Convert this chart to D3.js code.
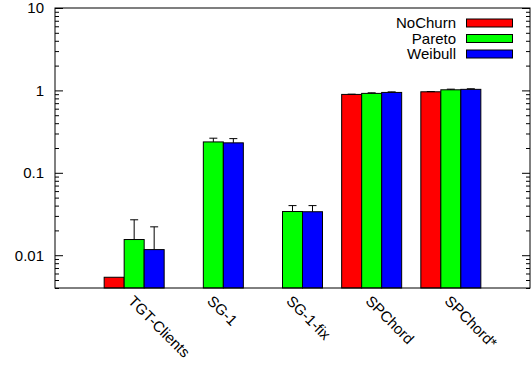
<!DOCTYPE html>
<html>
<head>
<meta charset="utf-8">
<script src="https://cdn.jsdelivr.net/npm/d3@7"></script>
<style>
  body { margin: 0; background: #fff; }
  svg { display: block; font-family: "Liberation Sans", Arial, sans-serif; }
</style>
</head>
<body>
<div id="graph_draw"></div>
<script>
// data
var categories = ["TGT-Clients", "SG-1", "SG-1-fix", "SPChord", "SPChord*"];
var seriesNames = ["NoChurn", "Pareto", "Weibull"];
var seriesColors = ["#ff0000", "#00ff00", "#0000ff"];
var noChurn = [0.0054, null, null, 0.894, 0.962];
var pareto = [0.0155, 0.237, 0.0339, 0.92, 1.017];
var weibull = [0.0117, 0.231, 0.0337, 0.945, 1.03];
// top of the error bars (null = none)
var noChurnErr = [null, null, null, 0.9, 0.968];
var paretoErr = [0.0269, 0.263, 0.040, 0.935, 1.035];
var weibullErr = [0.0221, 0.26, 0.040, 0.96, 1.047];
var majorTicks = [0.01, 0.1, 1, 10];
var tickLabels = ["0.01", "0.1", "1", "10"];

var values = [noChurn, pareto, weibull];
var errs = [noChurnErr, paretoErr, weibullErr];
var fontSize = 15;

// set the dimensions and margins of the graph
var W = 531, H = 367;
var margin = {top: 8, right: 1, bottom: 79, left: 55},
    width = W - margin.left - margin.right,
    height = H - margin.top - margin.bottom;

var svg = d3.select("#graph_draw").append("svg")
    .attr("width", W)
    .attr("height", H)
    .append("g")
    .attr("transform", "translate(" + margin.left + "," + margin.top + ")");

// scales
var x = d3.scaleBand().domain(categories).range([0, width]).paddingInner(0).paddingOuter(0.5);
var xs = d3.scaleBand().domain(seriesNames).range([-30, 30]);
var y = d3.scaleLog().domain([0.004, 10]).range([height, 0]);

// minor ticks 2..9 of each decade
var minorTicks = [];
[0.001, 0.01, 0.1, 1].forEach(function(d) {
    for (var k = 2; k <= 9; k++) {
        var v = d * k;
        if (v >= 0.004 && v <= 10) minorTicks.push(v);
    }
});

// left axis
svg.append("g")
    .call(d3.axisLeft(y).tickValues(minorTicks).tickSize(-4).tickFormat(""))
    .call(function(g) { g.select(".domain").remove(); });
svg.append("g")
    .call(d3.axisLeft(y).tickValues(majorTicks).tickSize(-8).tickPadding(11)
        .tickFormat(function(d, i) { return tickLabels[i]; }))
    .call(function(g) {
        g.select(".domain").remove();
        g.selectAll("text").attr("font-size", fontSize).attr("fill", "#000")
            .attr("font-family", "Liberation Sans, Arial, sans-serif");
    });

// right axis (mirror ticks)
svg.append("g")
    .attr("transform", "translate(" + width + ",0)")
    .call(d3.axisRight(y).tickValues(minorTicks).tickSize(-4).tickFormat(""))
    .call(function(g) { g.select(".domain").remove(); });
svg.append("g")
    .attr("transform", "translate(" + width + ",0)")
    .call(d3.axisRight(y).tickValues(majorTicks).tickSize(-8).tickFormat(""))
    .call(function(g) { g.select(".domain").remove(); });

// bars
seriesNames.forEach(function(s, si) {
    var data = categories.map(function(c, i) {
        return {cat: c, v: values[si][i], e: errs[si][i]};
    }).filter(function(d) { return d.v != null; });

    svg.selectAll(".bar" + si)
        .data(data)
        .enter().append("rect")
        .attr("x", function(d) { return x(d.cat) + x.bandwidth() / 2 + xs(s); })
        .attr("width", xs.bandwidth())
        .attr("y", function(d) { return y(d.v); })
        .attr("height", function(d) { return height - y(d.v); })
        .attr("fill", seriesColors[si])
        .attr("stroke", "#000")
        .attr("stroke-width", 1);

    // error bars
    var ed = data.filter(function(d) { return d.e != null; });
    ed.forEach(function(d) {
        var cx = x(d.cat) + x.bandwidth() / 2 + xs(s) + xs.bandwidth() / 2;
        svg.append("line")
            .attr("x1", cx).attr("x2", cx)
            .attr("y1", y(d.v)).attr("y2", y(d.e))
            .attr("stroke", "#000");
        svg.append("line")
            .attr("x1", cx - 4).attr("x2", cx + 4)
            .attr("y1", y(d.e)).attr("y2", y(d.e))
            .attr("stroke", "#000");
    });
});

// frame
svg.append("rect")
    .attr("x", 0).attr("y", 0)
    .attr("width", width).attr("height", height)
    .attr("fill", "none")
    .attr("stroke", "#000")
    .attr("stroke-width", 1);

// category labels, rotated
svg.selectAll(".catlabel")
    .data(categories)
    .enter().append("text")
    .attr("transform", function(d) {
        return "translate(" + (x(d) + x.bandwidth() / 2 - 7) + "," + (height + 14) + ") rotate(45)";
    })
    .attr("font-size", fontSize)
    .attr("text-anchor", "start")
    .text(function(d) { return d; });

// legend
var legend = svg.append("g").attr("transform", "translate(" + (width - 74) + ",15)");
seriesNames.forEach(function(s, i) {
    var row = legend.append("g").attr("transform", "translate(0," + (i * 15.5) + ")");
    row.append("text")
        .attr("x", 0)
        .attr("y", 0)
        .attr("dy", "0.35em")
        .attr("text-anchor", "end")
        .attr("font-size", fontSize)
        .text(s);
    row.append("rect")
        .attr("x", 10.5).attr("y", -4)
        .attr("width", 46).attr("height", 8)
        .attr("fill", seriesColors[i])
        .attr("stroke", "#000");
});
</script>
</body>
</html>
